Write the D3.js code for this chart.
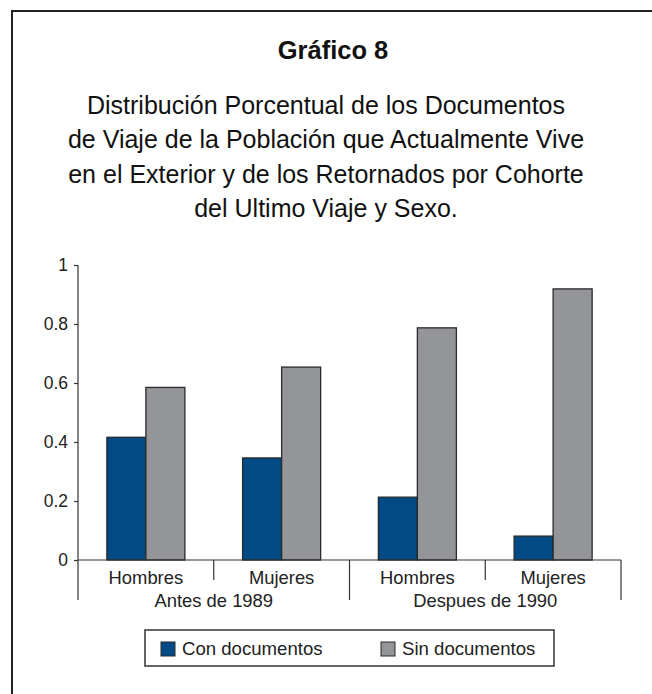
<!DOCTYPE html>
<html>
<head>
<meta charset="utf-8">
<script src="https://cdn.jsdelivr.net/npm/d3@7/dist/d3.min.js"></script>
<style>
  html, body { margin: 0; padding: 0; background: #fff; }
  svg { display: block; font-family: "Liberation Sans", Arial, sans-serif; }
</style>
</head>
<body>
<div id="chart"></div>
<script>
// datos del gráfico
const titulo = 'Gráfico 8';
const subtitulo = [
  'Distribución Porcentual de los Documentos',
  'de Viaje de la Población que Actualmente Vive',
  'en el Exterior y de los Retornados por Cohorte',
  'del Ultimo Viaje y Sexo.'
];
const cohortes = ['Antes de 1989', 'Despues de 1990'];
const sexos = ['Hombres', 'Mujeres'];
const series = ['Con documentos', 'Sin documentos'];
const conDocumentos = [0.416, 0.346, 0.213, 0.081];
const sinDocumentos = [0.585, 0.654, 0.787, 0.919];
const yTicks = [0, 0.2, 0.4, 0.6, 0.8, 1];

const colores = ['#014a85', '#949599'];

// tabla para el gráfico
const categorias = [];
cohortes.forEach(function(c, i) {
  sexos.forEach(function(s, j) {
    categorias.push({ id: c + '|' + s, cohorte: c, sexo: s, idx: i * 2 + j });
  });
});
const data = categorias.map(function(d, i) {
  return { id: d.id, values: [conDocumentos[i], sinDocumentos[i]] };
});

const W = 652, H = 694;
const svg = d3.select('#chart').append('svg')
  .attr('width', W)
  .attr('height', H);

// marco
svg.append('path')
  .attr('d', 'M12,' + H + 'V11H' + W)
  .attr('fill', 'none')
  .attr('stroke', '#222')
  .attr('stroke-width', 2);

// títulos
svg.append('text')
  .attr('x', 333).attr('y', 59)
  .attr('text-anchor', 'middle')
  .attr('font-size', 25.5)
  .attr('font-weight', 'bold')
  .attr('fill', '#111')
  .text(titulo);

svg.selectAll('.sub')
  .data(subtitulo)
  .enter().append('text')
  .attr('class', 'sub')
  .attr('x', 326)
  .attr('y', function(d, i) { return 114 + i * 34.4; })
  .attr('text-anchor', 'middle')
  .attr('font-size', 25)
  .attr('fill', '#111')
  .text(function(d) { return d; });

// escalas
const x0 = d3.scaleBand()
  .domain(categorias.map(function(d) { return d.id; }))
  .range([78, 621])
  .padding(0);

const x1 = d3.scaleBand()
  .domain(series)
  .range([0, x0.bandwidth()])
  .paddingInner(0)
  .paddingOuter(0.74);

const y = d3.scaleLinear()
  .domain([0, 1])
  .range([560, 265]);

const g = svg.append('g');

// barras
g.selectAll('.grupo')
  .data(data)
  .enter().append('g')
  .attr('class', 'grupo')
  .attr('transform', function(d) { return 'translate(' + x0(d.id) + ',0)'; })
  .selectAll('rect')
  .data(function(d) { return d.values.map(function(v, i) { return { key: series[i], value: v, i: i }; }); })
  .enter().append('rect')
  .attr('x', function(d) { return x1(d.key); })
  .attr('y', function(d) { return y(d.value); })
  .attr('width', x1.bandwidth())
  .attr('height', function(d) { return y(0) - y(d.value); })
  .attr('fill', function(d) { return colores[d.i]; })
  .attr('stroke', '#2a2a2a')
  .attr('stroke-width', 1.3);

// eje Y
const yAxis = function(sel) {
  sel.call(d3.axisLeft(y).tickValues(yTicks).tickSize(4).tickSizeOuter(0).tickPadding(6)
    .tickFormat(function(d) { return String(d); }));
  sel.select('.domain').remove();
  sel.selectAll('.tick line').attr('stroke', '#333').attr('stroke-width', 1.2);
  sel.selectAll('.tick text').attr('font-size', 17.5).attr('fill', '#222')
    .attr('font-family', '"Liberation Sans", Arial, sans-serif');
};
svg.append('g').attr('transform', 'translate(78,0)').call(yAxis);

const ejes = svg.append('g').attr('stroke', '#333').attr('stroke-width', 1.2);
ejes.append('line')
  .attr('x1', 78).attr('x2', 78)
  .attr('y1', y(1)).attr('y2', y(0) + 40);
ejes.append('line')
  .attr('x1', x0.range()[0]).attr('x2', x0.range()[1])
  .attr('y1', y(0)).attr('y2', y(0));

// separadores de categorías
const bordes = categorias.map(function(d) { return x0(d.id); }).concat([x0.range()[1]]);
ejes.selectAll('.sep')
  .data(bordes.slice(1))
  .enter().append('line')
  .attr('x1', function(d) { return d; })
  .attr('x2', function(d) { return d; })
  .attr('y1', y(0))
  .attr('y2', function(d, i) { return i % 2 === 0 ? y(0) + 20 : y(0) + 40; });

// etiquetas de sexo
svg.selectAll('.lab-sexo')
  .data(categorias)
  .enter().append('text')
  .attr('x', function(d) { return x0(d.id) + x0.bandwidth() / 2; })
  .attr('y', y(0) + 24)
  .attr('text-anchor', 'middle')
  .attr('font-size', 18.4)
  .attr('fill', '#222')
  .text(function(d) { return d.sexo; });

// etiquetas de cohorte
svg.selectAll('.lab-cohorte')
  .data(cohortes)
  .enter().append('text')
  .attr('x', function(d, i) { return x0(categorias[i * 2].id) + x0.bandwidth(); })
  .attr('y', y(0) + 47)
  .attr('text-anchor', 'middle')
  .attr('font-size', 18.4)
  .attr('fill', '#222')
  .text(function(d) { return d; });

// leyenda
const leyenda = svg.append('g');
leyenda.append('rect')
  .attr('x', 145).attr('y', 630)
  .attr('width', 409).attr('height', 36)
  .attr('fill', '#fff')
  .attr('stroke', '#333')
  .attr('stroke-width', 1.5);

const items = leyenda.selectAll('.item')
  .data(series)
  .enter().append('g')
  .attr('transform', function(d, i) { return 'translate(' + (161 + i * 220) + ',642)'; });
items.append('rect')
  .attr('width', 14).attr('height', 14)
  .attr('fill', function(d, i) { return colores[i]; })
  .attr('stroke', '#2a2a2a')
  .attr('stroke-width', 1);
items.append('text')
  .attr('x', 21).attr('y', 13)
  .attr('font-size', 18.6)
  .attr('fill', '#222')
  .text(function(d) { return d; });
</script>
</body>
</html>
